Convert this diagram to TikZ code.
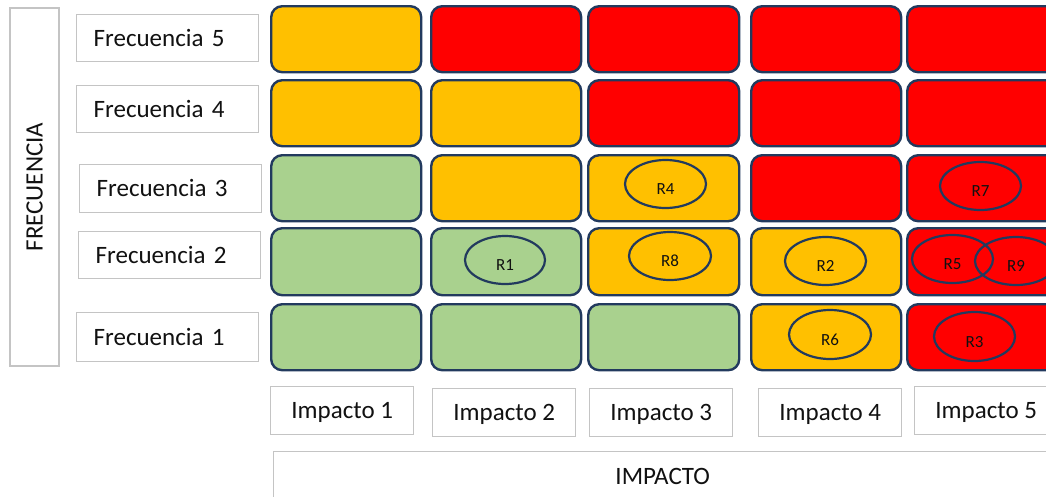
\documentclass[tikz,border=0pt]{standalone}
\usepackage{fontspec}
\setmainfont{Carlito}
\usetikzlibrary{shapes.geometric}
\definecolor{corange}{HTML}{FFC000}
\definecolor{cred}{HTML}{FF0000}
\definecolor{cgreen}{HTML}{A9D18E}
\definecolor{cellb}{HTML}{223A5E}
\definecolor{labb}{HTML}{C4C4C4}
\definecolor{txt}{HTML}{111111}
\begin{document}
\begin{tikzpicture}[x=1pt,y=-1pt,
  cell/.style={draw=cellb, line width=2.4pt, rounded corners=11pt, inner sep=0pt, anchor=north west},
  lab/.style={draw=labb, line width=1.4pt, font=\fontsize{25}{30}\selectfont, text=txt,
    inner ysep=0pt, text height=16pt, text depth=0pt, anchor=north west},
  flab/.style={lab, text width=148pt, inner xsep=17pt, align=left},
  ilab/.style={lab, inner xsep=0pt, align=center},
  risk/.style={ellipse, draw=cellb, line width=2.2pt, inner sep=0pt},
  rtxt/.style={font=\fontsize{17}{19}\selectfont, text=txt, inner sep=0pt, text height=11pt, text depth=0pt}]
\clip (0,0) rectangle (1046,496);
\fill[white] (0,0) rectangle (1046,496);

% axis title boxes
\node[lab, anchor=center, rotate=90, minimum width=358pt, minimum height=49pt, inner xsep=0pt] (frec) at (34.5,187) {FRECUENCIA};
\node[ilab, minimum width=778pt, minimum height=50pt] (imp) at (273,451) {IMPACTO};

% frequency labels
\node[flab, minimum height=47pt] (f5) at (76,14) {Frecuencia 5};
\node[flab, minimum height=47pt] (f4) at (76,85) {Frecuencia 4};
\node[flab, minimum height=48pt] (f3) at (79,164) {Frecuencia 3};
\node[flab, minimum height=47pt] (f2) at (78,231) {Frecuencia 2};
\node[flab, minimum height=49pt] (f1) at (76,312) {Frecuencia 1};

% impact labels
\node[ilab, minimum width=143pt, minimum height=48pt] (i1) at (270,386) {Impacto 1};
\node[ilab, minimum width=143pt, minimum height=48pt] (i2) at (432,388) {Impacto 2};
\node[ilab, minimum width=143pt, minimum height=48pt] (i3) at (589,388) {Impacto 3};
\node[ilab, minimum width=143pt, minimum height=48pt] (i4) at (758,388) {Impacto 4};
\node[ilab, minimum width=143pt, minimum height=48pt] (i5) at (914,386) {Impacto 5};

% matrix cells
\foreach \n/\x/\y/\w/\h/\c in {
  c15/270/5/150/66/corange, c25/430/5/150/66/cred, c35/587/5/151/66/cred, c45/750/5/150/66/cred, c55/906/5/150/66/cred,
  c14/270/79/150/66/corange, c24/430/79/150/66/corange, c34/587/79/151/66/cred, c44/750/79/150/66/cred, c54/906/79/150/66/cred,
  c13/270/154/150/66/cgreen, c23/430/154/150/66/corange, c33/587/154/151/66/corange, c43/750/154/150/66/cred, c53/906/154/150/66/cred,
  c12/270/227/150/67/cgreen, c22/430/227/150/67/cgreen, c32/587/227/151/67/corange, c42/750/227/150/67/corange, c52/906/227/150/67/cred,
  c11/270/303/150/66/cgreen, c21/430/303/150/66/cgreen, c31/587/303/151/66/cgreen, c41/750/303/150/66/corange, c51/906/303/150/66/cred}
  \node[cell, fill=\c, minimum width=\w pt, minimum height=\h pt] (\n) at (\x,\y) {};

% risks
\foreach \n/\x/\y/\w/\h in {
  R4/665.5/184/81/48, R7/980.5/186/81/48, R8/670/256/82/48, R2/825.5/261/81/48,
  R5/952.5/259/81/48, R9/1016/261/82/48, R1/505/260/80/48, R6/830/334.5/82/49, R3/974.5/336.5/81/49}
  {
  \node[risk, minimum width=\w pt, minimum height=\h pt] (\n) at (\x,\y) {};
  \node[rtxt] (\n t) at ([yshift=-5pt]\n.center) {\n};
  }
\end{tikzpicture}
\end{document}
